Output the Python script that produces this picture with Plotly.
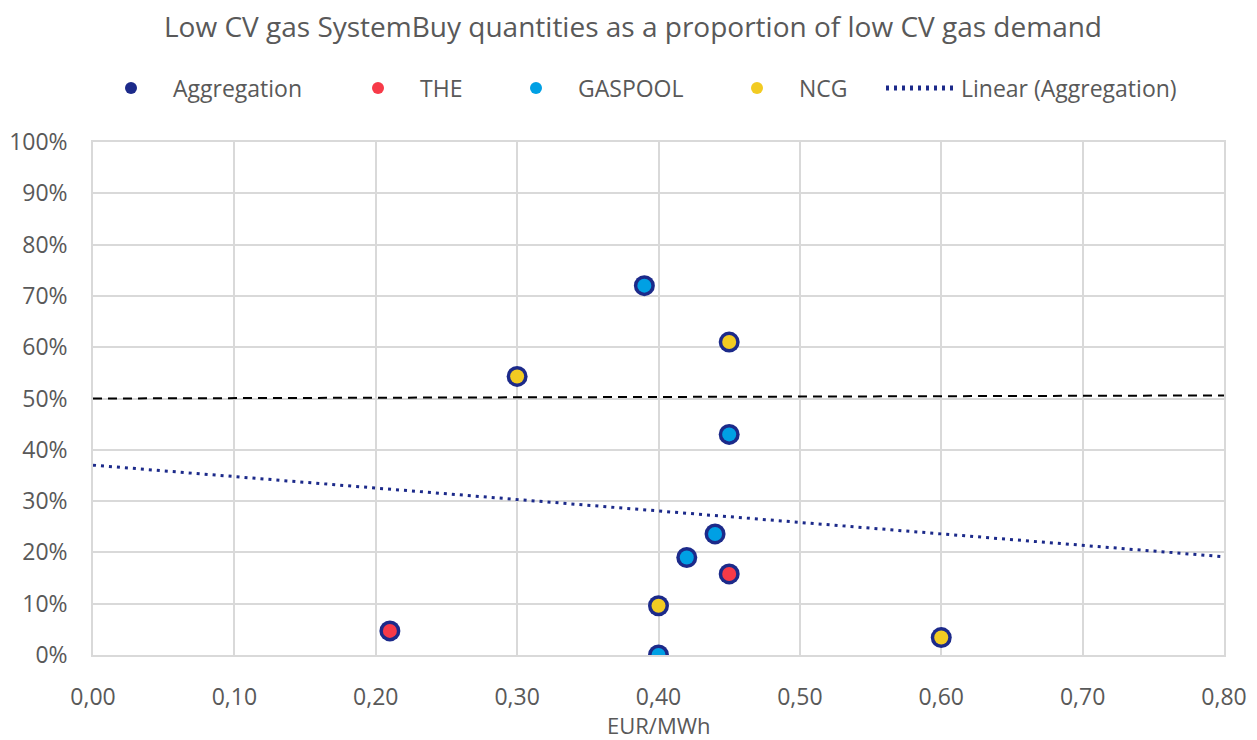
import numpy as np
import plotly.graph_objects as go

# Data
the_x = [0.21, 0.45]
the_y = [0.047, 0.158]
gaspool_x = [0.39, 0.45, 0.44, 0.42, 0.40]
gaspool_y = [0.72, 0.43, 0.236, 0.19, 0.0]
ncg_x = [0.45, 0.30, 0.40, 0.60]
ncg_y = [0.61, 0.543, 0.096, 0.034]
threshold_x = [0.0, 0.80]
threshold_y = [0.500, 0.506]

agg_x = the_x + gaspool_x + ncg_x
agg_y = the_y + gaspool_y + ncg_y

slope, intercept = np.polyfit(agg_x, agg_y, 1)
trend_x = np.array([0.0, 0.80])
trend_y = intercept + slope * trend_x

NAVY = "#1C2A8A"
RED = "#F73A48"
BLUE = "#00A0E4"
YELLOW = "#F2CB22"
GRAY = "#595959"
FONT = "Open Sans"
FS = 23

fig = go.Figure()
fig.add_trace(go.Scatter(x=threshold_x, y=threshold_y, mode="lines",
                         line=dict(color="black", width=2, dash="9px,6px"),
                         showlegend=False, hoverinfo="skip"))
fig.add_trace(go.Scatter(x=trend_x, y=trend_y, mode="lines", name="Linear (Aggregation)",
                         line=dict(color=NAVY, width=3, dash="3px,5px"), legend="legend5"))
fig.add_trace(go.Scatter(x=agg_x, y=agg_y, mode="markers", name="Aggregation",
                         marker=dict(color=NAVY, size=21), legend="legend"))
fig.add_trace(go.Scatter(x=the_x, y=the_y, mode="markers", name="THE",
                         marker=dict(color=RED, size=14), legend="legend2"))
fig.add_trace(go.Scatter(x=gaspool_x, y=gaspool_y, mode="markers", name="GASPOOL",
                         marker=dict(color=BLUE, size=14), legend="legend3"))
fig.add_trace(go.Scatter(x=ncg_x, y=ncg_y, mode="markers", name="NCG",
                         marker=dict(color=YELLOW, size=14), legend="legend4"))

# page body has an 8px offset, so the figure is drawn 8px smaller
OFF = 8
W, H = 1257 - OFF, 740 - OFF
L, T = 93 - OFF, 142 - OFF
R, B = 33, 85
pw = W - L - R
ph = H - T - B

def leg(px, iw=30):
    return dict(x=(px - OFF - L) / pw, y=1.105, xanchor="left", yanchor="middle",
                orientation="h", font=dict(family=FONT, size=FS, color=GRAY),
                bgcolor="rgba(0,0,0,0)", itemsizing="constant", itemwidth=iw)

fig.update_layout(
    width=W, height=H,
    margin=dict(l=L, r=R, t=T, b=B, autoexpand=False),
    paper_bgcolor="white", plot_bgcolor="white",
    separators=",.",
    title=dict(text="Low CV gas SystemBuy quantities as a proportion of low CV gas demand",
               x=(633 - OFF) / W, xanchor="center", y=1 - 19 / H, yanchor="middle", yref="container",
               font=dict(family=FONT, size=28, color=GRAY)),
    legend=leg(89, 74), legend2=leg(336, 74), legend3=leg(494, 74), legend4=leg(715, 74),
    legend5=leg(881, 70),
    annotations=[dict(text="EUR/MWh", xref="paper", yref="paper", x=0.5, y=-70 / ph,
                      xanchor="center", yanchor="middle", showarrow=False,
                      font=dict(family=FONT, size=22, color=GRAY))],
    xaxis=dict(range=[0, 0.8], dtick=0.1, tickformat=".2f", automargin=False,
               showgrid=True, gridcolor="#D9D9D9", gridwidth=1.5,
               showline=True, linecolor="#D9D9D9", linewidth=1.5, mirror=True,
               zeroline=False, ticks="", ticklabelstandoff=21,
               tickfont=dict(family=FONT, size=FS, color=GRAY)),
    yaxis=dict(range=[0, 1.0], dtick=0.1, tickformat=".0%", automargin=False,
               showgrid=True, gridcolor="#D9D9D9", gridwidth=1.5,
               showline=True, linecolor="#D9D9D9", linewidth=1.5, mirror=True,
               zeroline=False, ticks="", ticklabelstandoff=19,
               tickfont=dict(family=FONT, size=FS, color=GRAY)),
)

fig.write_html("out.html")
